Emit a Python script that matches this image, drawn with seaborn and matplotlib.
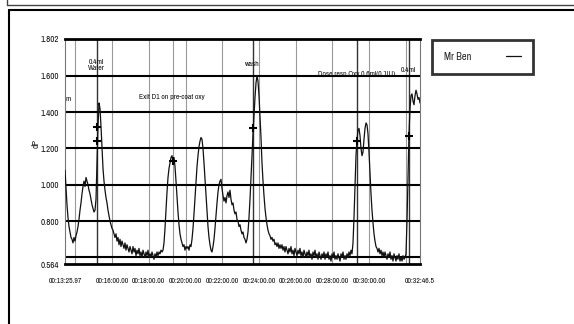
import numpy as np
import pandas as pd
from matplotlib import pyplot as plt
from matplotlib import font_manager
import seaborn as sns

# trace "Mr Ben", one reading per screen column, 00:13:25.97 -> 00:32:46.5
t_start = 805.97
t_end = 1966.5

first_peaks = [1.08, 0.98, 0.89, 0.82, 0.77, 0.74, 0.71, 0.70, 0.68, 0.71,
               0.69, 0.72, 0.74, 0.77, 0.81, 0.86, 0.90, 0.95, 0.99, 1.02,
               0.99, 1.04, 1.02, 1.00, 0.97, 0.95, 0.92, 0.89, 0.87, 0.85,
               0.86, 0.92, 1.12, 1.32, 1.45, 1.42, 1.32, 1.20, 1.09, 1.02,
               0.97, 0.93, 0.90, 0.86, 0.83, 0.80, 0.78, 0.76, 0.75, 0.73]
baseline_1 = [0.71, 0.73, 0.69, 0.71, 0.67, 0.70, 0.66, 0.69, 0.67, 0.65,
              0.68, 0.64, 0.67, 0.65, 0.63, 0.66, 0.64, 0.62, 0.66, 0.63,
              0.65, 0.61, 0.64, 0.62, 0.65, 0.61, 0.63, 0.60, 0.64, 0.62,
              0.60, 0.63, 0.61, 0.64, 0.60, 0.62, 0.60, 0.63, 0.61, 0.59,
              0.62, 0.60, 0.63, 0.61, 0.63, 0.62, 0.64, 0.63]
exit_peaks = [0.64, 0.68, 0.76, 0.86, 0.96, 1.04, 1.09, 1.12, 1.15, 1.16,
              1.13, 1.15, 1.10, 1.02, 0.93, 0.85, 0.78, 0.73, 0.70, 0.68,
              0.66, 0.67, 0.64, 0.66, 0.65, 0.66, 0.64, 0.67, 0.66, 0.70,
              0.76, 0.84, 0.93, 1.02, 1.10, 1.16, 1.21, 1.24, 1.26, 1.25,
              1.20, 1.12, 1.03, 0.94, 0.85, 0.77, 0.71, 0.67, 0.64, 0.63]
wash_peaks = [0.66, 0.70, 0.76, 0.83, 0.90, 0.96, 1.00, 1.02, 1.03, 0.98,
              0.94, 0.91, 0.93, 0.90, 0.94, 0.96, 0.93, 0.97, 0.92, 0.89,
              0.90, 0.86, 0.84, 0.85, 0.81, 0.80, 0.77, 0.78, 0.75, 0.73,
              0.74, 0.71, 0.70, 0.68, 0.70, 0.74, 0.82, 0.92, 1.04, 1.16,
              1.28, 1.38, 1.48, 1.56, 1.60, 1.57, 1.49, 1.38, 1.26, 1.12,
              1.02, 0.94, 0.87, 0.82, 0.78, 0.75, 0.73, 0.72, 0.70, 0.71,
              0.69, 0.70, 0.67, 0.68, 0.66, 0.68, 0.65, 0.67]
baseline_2 = [0.65, 0.67, 0.64, 0.66, 0.63, 0.66, 0.64, 0.62, 0.65, 0.63,
              0.66, 0.62, 0.64, 0.61, 0.65, 0.63, 0.61, 0.64, 0.62, 0.65,
              0.61, 0.63, 0.60, 0.64, 0.62, 0.60, 0.63, 0.61, 0.64, 0.60,
              0.62, 0.59, 0.63, 0.61, 0.64, 0.60, 0.62, 0.59, 0.63, 0.61,
              0.59, 0.62, 0.60, 0.63, 0.59, 0.62, 0.60, 0.63, 0.59, 0.61,
              0.58, 0.62, 0.60, 0.63, 0.59, 0.61, 0.59, 0.62, 0.60, 0.58,
              0.62, 0.60, 0.63, 0.59, 0.61, 0.59, 0.62, 0.60, 0.63, 0.61,
              0.64]
dose_peaks = [0.62, 0.68, 0.82, 1.00, 1.16, 1.25, 1.30, 1.31, 1.27, 1.20,
              1.16, 1.18, 1.25, 1.31, 1.34, 1.33, 1.28, 1.18, 1.06, 0.95,
              0.86, 0.79, 0.73, 0.69, 0.66, 0.65, 0.63, 0.65]
baseline_3 = [0.62, 0.64, 0.61, 0.63, 0.60, 0.63, 0.61, 0.59, 0.62, 0.60,
              0.63, 0.59, 0.61, 0.58, 0.62, 0.60, 0.58, 0.61, 0.59, 0.62,
              0.58, 0.60, 0.58, 0.61, 0.59, 0.60, 0.62]
last_peak = [0.80, 1.05, 1.28, 1.42, 1.49, 1.50, 1.46, 1.44, 1.49, 1.52,
             1.50, 1.47, 1.48, 1.45]

# cursors: time (s) and marker value
cursor_times = [910.6, 910.6, 1159.0, 1421.0, 1760.5, 1930.5]
cursor_values = [1.32, 1.24, 1.13, 1.31, 1.24, 1.27]
dark_cursors = [910.6, 1421.0, 1760.5, 1930.5]
grey_cursors = [1159.0]

y_ticks = [0.564, 0.6, 0.8, 1.0, 1.2, 1.4, 1.6, 1.802]
y_labels = ["0.564", "", "0.800", "1.000", "1.200", "1.400", "1.600", "1.802"]
x_ticks = [t_start, 960, 1080, 1200, 1320, 1440, 1560, 1680, 1800, t_end]
x_labels = ["00:13:25.97", "00:16:00.00", "00:18:00.00", "00:20:00.00", "00:22:00.00",
            "00:24:00.00", "00:26:00.00", "00:28:00.00", "00:30:00.00", "00:32:46.5"]
v_grid = [840, 960, 1080, 1200, 1320, 1440, 1560, 1680, 1800, 1920]
h_grid = [0.6, 0.8, 1.0, 1.2, 1.4, 1.6]

values = first_peaks + baseline_1 + exit_peaks + wash_peaks + baseline_2 + dose_peaks + baseline_3 + last_peak
step = (t_end - t_start) / (len(values) - 1)
trace = pd.DataFrame({"t": t_start + step * np.arange(len(values)), "dP": values})

sns.set_style("white")

# the original uses a very narrow font; take a condensed face if one is installed
narrow = sorted({f.name for f in font_manager.fontManager.ttflist
                 if "narrow" in f.name.lower() or "condensed" in f.name.lower()})
if narrow:
    plt.rcParams['font.family'] = [narrow[0], 'DejaVu Sans']
    fs = 1.2
else:
    plt.rcParams['font.family'] = ['Liberation Sans', 'DejaVu Sans']
    fs = 1.0

W, H = 574, 324
fig = plt.figure(figsize=(W / 100, H / 100), dpi=100)
ax = fig.add_axes([65 / W, 1 - 264 / H, 355 / W, 225 / H])

for x in v_grid + grey_cursors:
    ax.axvline(x, color="#9a9a9a", lw=0.8, zorder=1)
for x in dark_cursors:
    ax.axvline(x, color="#333333", lw=1.0, zorder=1)
for y in h_grid:
    ax.axhline(y, color="black", lw=1.5, zorder=1)

sns.lineplot(data=trace, x="t", y="dP", ax=ax, color="#111111", lw=0.9, label="Mr Ben", zorder=3)
sns.scatterplot(x=cursor_times, y=cursor_values, ax=ax, marker="+", s=30, color="black",
                linewidth=1.5, zorder=4)

ax.set_xlim(t_start, t_end)
ax.set_ylim(0.564, 1.802)
ax.set_yticks(y_ticks)
ax.set_yticklabels(y_labels, fontsize=5.3 * fs, color="#111111")
ax.set_xticks(x_ticks)
ax.set_xticklabels(x_labels, fontsize=4.7 * fs, color="#111111")
ax.tick_params(axis="y", length=3, width=0.8, color="black", pad=1)
ax.tick_params(axis="x", length=6, width=0.8, color="#888888", pad=4)
ax.set_xlabel("")
ax.set_ylabel("")
for side in ["top", "bottom"]:
    ax.spines[side].set_linewidth(2)
    ax.spines[side].set_color("black")
for side in ["left", "right"]:
    ax.spines[side].set_linewidth(0.8)
    ax.spines[side].set_color("#777777")

# cursor names
txt = dict(fontsize=4.6 * fs, color="#111111", ha="center", va="center", zorder=5)
ax.text(907, 1.659, "0.4ml\nWater", linespacing=1.0, **txt)
ax.text(807, 1.472, "m", **dict(txt, ha="left"))
ax.text(1156, 1.483, "Exit D1 on pre-coat oxy", **txt)
ax.text(1417, 1.664, "wash", **txt)
ax.text(1760, 1.612, "Dose resp Oxy 0.6ml(0.1IU)", **txt)
ax.text(1927, 1.633, "0.4ml", **txt)

fig.text(36 / W, 1 - 144 / H, "dP", rotation=90, fontsize=6.5, fontweight="bold",
         ha="center", va="center")

leg = ax.legend(loc="upper left", bbox_to_anchor=(432 / W, 1 - 40 / H), bbox_transform=fig.transFigure,
                markerfirst=False, fancybox=False, edgecolor="black", fontsize=7.5,
                handlelength=1.5, handletextpad=3.3, borderpad=1.15, borderaxespad=0)
leg.get_frame().set_linewidth(2)

# window frame
fig.add_artist(plt.Line2D([7 / W, 1], [1 - 5 / H, 1 - 5 / H], color="#444444", lw=1))
fig.add_artist(plt.Line2D([7 / W, 7 / W], [1, 1 - 5 / H], color="#444444", lw=1))
fig.add_artist(plt.Line2D([9 / W, 1], [1 - 10 / H, 1 - 10 / H], color="black", lw=1.5))
fig.add_artist(plt.Line2D([9 / W, 9 / W], [1 - 10 / H, 0], color="black", lw=1.5))

fig.savefig("out.png", dpi=100)
